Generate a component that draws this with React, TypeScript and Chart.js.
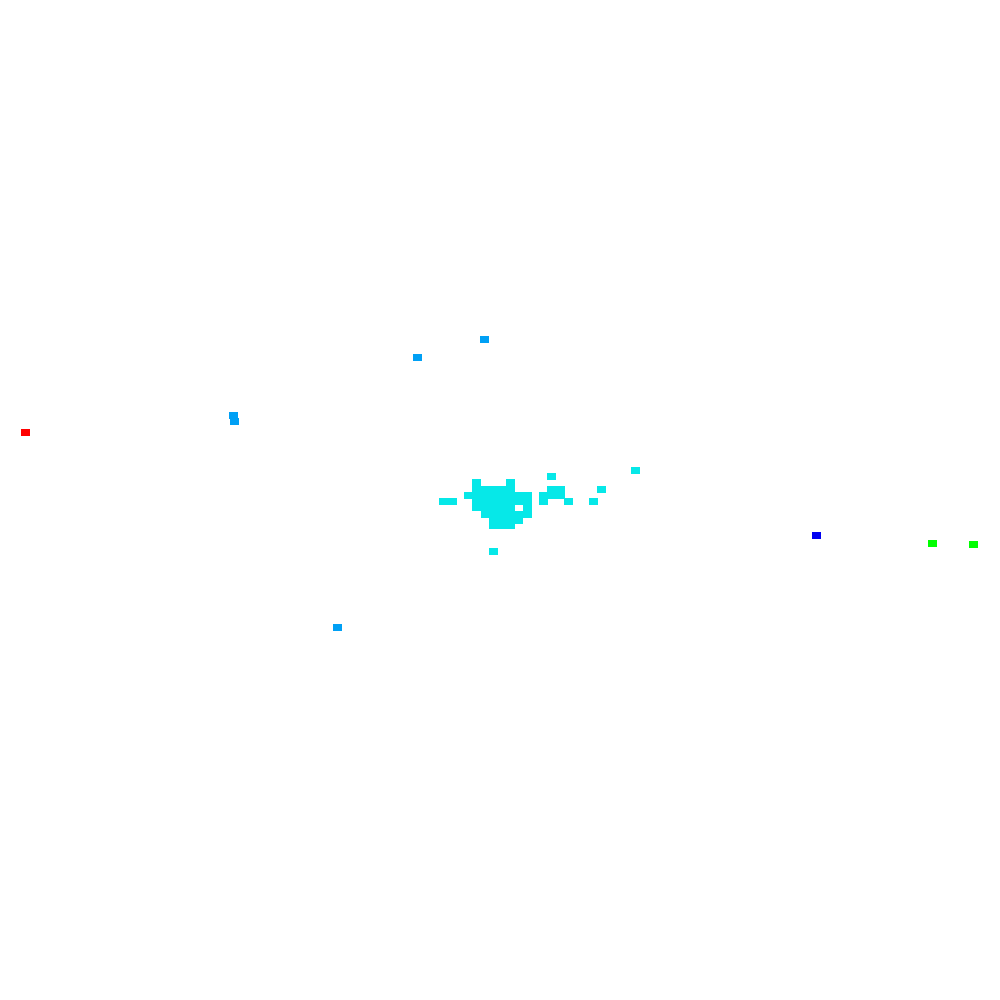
import React, { useEffect, useRef } from "react";
import { Chart, registerables } from "chart.js";

Chart.register(...registerables);

// Values in data units (x: 0..100 left→right, y: 0..100 bottom→top)
const cyanX = [
  47.65, 51.0,
  47.65, 48.5, 49.35, 50.2, 51.0,
  46.8, 47.65, 48.5, 49.35, 50.2, 51.0, 51.8, 52.7,
  44.35, 45.2, 47.65, 48.5, 49.35, 50.2, 51.0, 51.8, 52.7,
  47.65, 48.5, 49.35, 50.2, 51.0, 52.7,
  48.5, 49.35, 50.2, 51.0, 51.8, 52.7,
  49.35, 50.2, 51.0, 51.8,
  49.35, 50.2, 51.0,
  55.15, 55.15, 56.0, 55.15, 56.0, 54.3, 54.3, 56.8, 59.3, 60.15, 63.5, 49.3,
];
const cyanY = [
  51.75, 51.75,
  51.1, 51.1, 51.1, 51.1, 51.1,
  50.5, 50.5, 50.5, 50.5, 50.5, 50.5, 50.5, 50.5,
  49.9, 49.9, 49.9, 49.9, 49.9, 49.9, 49.9, 49.9, 49.9,
  49.25, 49.25, 49.25, 49.25, 49.25, 49.25,
  48.6, 48.6, 48.6, 48.6, 48.6, 48.6,
  48.0, 48.0, 48.0, 48.0,
  47.45, 47.45, 47.45,
  52.4, 51.1, 51.1, 50.5, 50.5, 50.5, 49.9, 49.85, 49.85, 51.1, 52.95, 44.9,
];
const skyX = [48.45, 41.75, 23.35, 23.4, 33.7];
const skyY = [66.1, 64.25, 58.45, 57.85, 37.3];
const redX = [2.5];
const redY = [56.8];
const blueX = [81.65];
const blueY = [46.5];
const greenX = [93.2, 97.35];
const greenY = [45.65, 45.6];

const toPts = (xs: number[], ys: number[]) => xs.map((x, i) => ({ x, y: ys[i] }));

function makeMarker(color: string) {
  const c = document.createElement("canvas");
  c.width = 9;
  c.height = 7;
  const ctx = c.getContext("2d")!;
  ctx.fillStyle = color;
  ctx.fillRect(0, 0, 9, 7);
  return c;
}

const crisp = {
  id: "crisp",
  beforeDatasetsDraw(chart: any) {
    chart.ctx.imageSmoothingEnabled = false;
  },
};

export default function App() {
  const ref = useRef<HTMLCanvasElement | null>(null);
  useEffect(() => {
    if (!ref.current) return;
    const series = [
      { pts: toPts(skyX, skyY), color: "#00A0F5" },
      { pts: toPts(cyanX, cyanY), color: "#06E8E8" },
      { pts: toPts(redX, redY), color: "#FF0000" },
      { pts: toPts(blueX, blueY), color: "#0000F2" },
      { pts: toPts(greenX, greenY), color: "#00FF00" },
    ];
    const chart = new Chart(ref.current, {
      type: "scatter",
      data: {
        datasets: series.map((s) => ({
          data: s.pts,
          backgroundColor: s.color,
          borderColor: s.color,
          pointStyle: makeMarker(s.color) as any,
          pointRadius: 5,
          borderWidth: 0,
        })),
      },
      options: {
        animation: false,
        responsive: true,
        maintainAspectRatio: false,
        layout: { padding: 0, autoPadding: false } as any,
        plugins: { legend: { display: false }, tooltip: { enabled: false } },
        scales: {
          x: { type: "linear", min: 0, max: 100, display: false },
          y: { type: "linear", min: 0, max: 100, display: false },
        },
      },
      plugins: [crisp],
    });
    return () => chart.destroy();
  }, []);
  return (
    <div style={{ position: "fixed", left: 0, top: 0, width: 1000, height: 1000, background: "#ffffff" }}>
      <canvas ref={ref} />
    </div>
  );
}
